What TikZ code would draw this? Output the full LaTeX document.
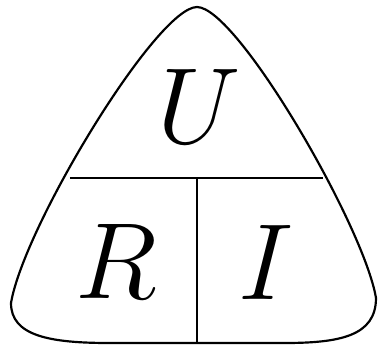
\documentclass[tikz,border=0pt]{standalone}
\usepackage{tikz}
\usetikzlibrary{positioning}

\begin{document}
\begin{tikzpicture}[
  x=0.00807cm, y=-0.00807cm,
  outline/.style={line width=0.5pt, color=black},
  divider/.style={line width=0.5pt, color=black},
  letter/.style={anchor=base, inner sep=0pt, font=\Huge},
]
\useasboundingbox (0,0) rectangle (378,346);
% rounded triangle
\draw[outline] (197,7)
  .. controls (157,7) and (24,226) .. (11,303)
  .. controls (11,336) and (50,343) .. (110,343)
  -- (284,343)
  .. controls (340,343) and (376,336) .. (376,298)
  .. controls (364,226) and (237,7) .. (197,7) -- cycle;
% dividers
\coordinate (hl) at (70,178);
\coordinate (hr) at (323,178);
\coordinate (vt) at (197,178);
\coordinate (vb) at (197,343);
\draw[divider] (hl) -- (hr);
\draw[divider] (vt) -- (vb);
% labels
\node[letter] (volt) at (199,143) {$U$};
\node[letter] (res) at (116,298) {$R$};
\node[letter] (amp) at (266,299) {$I$};
\end{tikzpicture}
\end{document}
